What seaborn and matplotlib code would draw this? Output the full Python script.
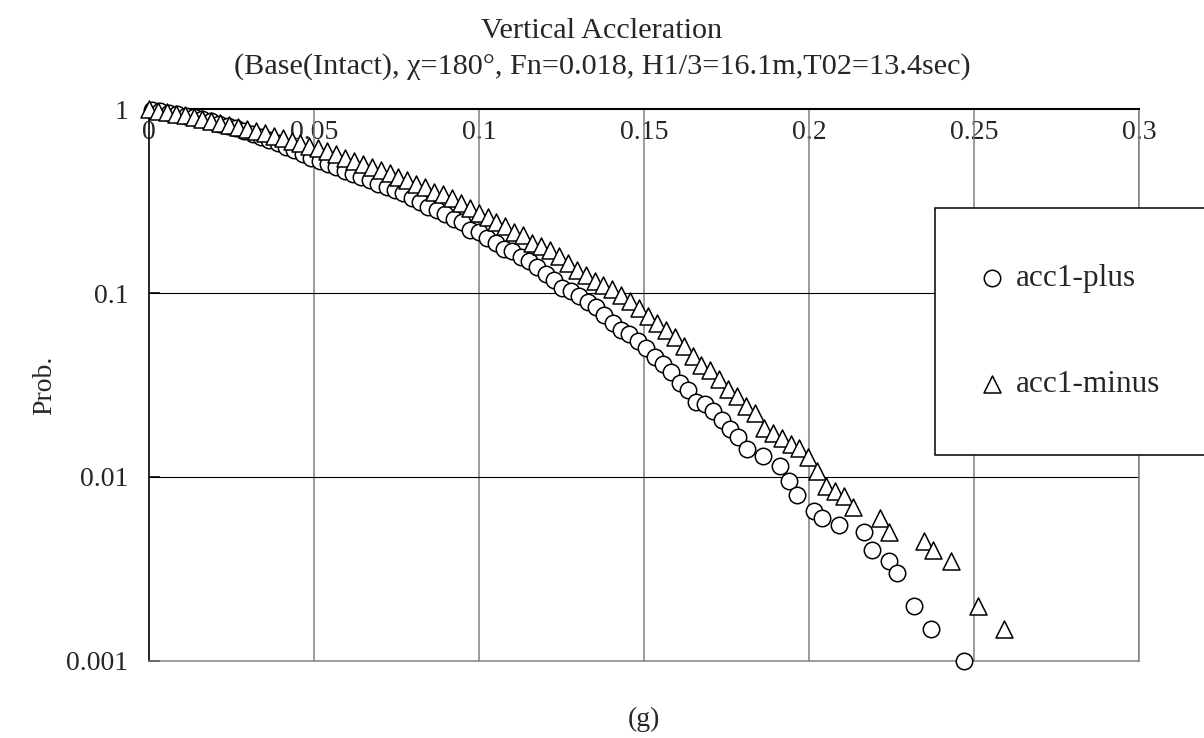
import numpy as np
import pandas as pd
import matplotlib
matplotlib.use("Agg")
import matplotlib.pyplot as plt
import seaborn as sns

# ---------------- data ----------------
plus_x = [0.0009, 0.0034, 0.0060, 0.0085, 0.0111, 0.0136, 0.0161, 0.0187, 0.0212, 0.0238,
          0.0263, 0.0288, 0.0314, 0.0339, 0.0364, 0.0390, 0.0415, 0.0440, 0.0466, 0.0491,
          0.0517, 0.0542, 0.0567, 0.0593, 0.0618, 0.0643, 0.0669, 0.0694, 0.0720, 0.0745,
          0.0770, 0.0796, 0.0821, 0.0846, 0.0872, 0.0897, 0.0923, 0.0948, 0.0973, 0.0999,
          0.1024, 0.1050, 0.1075, 0.1100, 0.1126, 0.1151, 0.1176, 0.1202, 0.1227, 0.1253,
          0.1278, 0.1303, 0.1329, 0.1354, 0.1379, 0.1405, 0.1430, 0.1456, 0.1481, 0.1506,
          0.1532, 0.1557, 0.1582, 0.1608, 0.1633, 0.1659, 0.1684, 0.1709, 0.1735, 0.1760,
          0.1786, 0.1811, 0.1862, 0.1912, 0.1938, 0.1963, 0.2014, 0.2039, 0.2090, 0.2166,
          0.2192, 0.2242, 0.2268, 0.2318, 0.2369, 0.2471]
plus_p = [0.988, 0.973, 0.957, 0.941, 0.921, 0.901, 0.879, 0.857, 0.833, 0.809,
          0.784, 0.758, 0.731, 0.704, 0.678, 0.650, 0.623, 0.596, 0.568, 0.544,
          0.522, 0.501, 0.482, 0.462, 0.444, 0.426, 0.409, 0.393, 0.377, 0.362,
          0.348, 0.327, 0.313, 0.292, 0.282, 0.269, 0.252, 0.244, 0.220, 0.215,
          0.198, 0.186, 0.173, 0.170, 0.156, 0.150, 0.138, 0.127, 0.118, 0.107,
          0.1025, 0.0963, 0.0888, 0.0839, 0.0759, 0.0684, 0.0627, 0.0601, 0.0547, 0.0501,
          0.0450, 0.0410, 0.0373, 0.0324, 0.0297, 0.0257, 0.0249, 0.0227, 0.0203, 0.0182,
          0.0166, 0.0142, 0.0130, 0.0115, 0.0095, 0.0080, 0.0065, 0.0060, 0.0055, 0.0050,
          0.0040, 0.0035, 0.0030, 0.0020, 0.0015, 0.0010]

minus_x = [0.0000, 0.0027, 0.0054, 0.0081, 0.0108, 0.0135, 0.0162, 0.0189, 0.0216, 0.0243,
           0.0270, 0.0297, 0.0324, 0.0351, 0.0378, 0.0405, 0.0432, 0.0459, 0.0486, 0.0513,
           0.0540, 0.0567, 0.0594, 0.0621, 0.0648, 0.0675, 0.0702, 0.0729, 0.0756, 0.0783,
           0.0810, 0.0837, 0.0864, 0.0891, 0.0918, 0.0945, 0.0972, 0.0999, 0.1026, 0.1053,
           0.1080, 0.1107, 0.1134, 0.1161, 0.1188, 0.1215, 0.1242, 0.1269, 0.1296, 0.1323,
           0.1350, 0.1377, 0.1404, 0.1431, 0.1458, 0.1485, 0.1512, 0.1539, 0.1566, 0.1593,
           0.1620, 0.1647, 0.1674, 0.1701, 0.1728, 0.1755, 0.1782, 0.1809, 0.1836, 0.1863,
           0.1890, 0.1917, 0.1944, 0.1971, 0.1998, 0.2025, 0.2052, 0.2079, 0.2106, 0.2133,
           0.2214, 0.2241, 0.2349, 0.2376, 0.2430, 0.2511, 0.2592]
minus_p = [0.994, 0.978, 0.961, 0.943, 0.924, 0.905, 0.885, 0.864, 0.844, 0.823,
           0.801, 0.780, 0.757, 0.736, 0.714, 0.693, 0.672, 0.651, 0.630, 0.610,
           0.588, 0.567, 0.545, 0.524, 0.504, 0.485, 0.466, 0.447, 0.429, 0.409,
           0.391, 0.378, 0.355, 0.344, 0.327, 0.307, 0.289, 0.271, 0.258, 0.244,
           0.231, 0.215, 0.207, 0.188, 0.179, 0.171, 0.159, 0.146, 0.134, 0.126,
           0.116, 0.110, 0.105, 0.098, 0.091, 0.083, 0.075, 0.069, 0.063, 0.058,
           0.0515, 0.0455, 0.0406, 0.0382, 0.0341, 0.0301, 0.0276, 0.0243, 0.0223, 0.0184,
           0.0173, 0.0162, 0.0152, 0.0143, 0.0128, 0.0108, 0.0089, 0.0084, 0.0079, 0.0069,
           0.0060, 0.0050, 0.0045, 0.0040, 0.0035, 0.0020, 0.0015]

series_names = ["acc1-plus", "acc1-minus"]
x_ticks = [0, 0.05, 0.1, 0.15, 0.2, 0.25, 0.3]
x_tick_labels = ["0", "0.05", "0.1", "0.15", "0.2", "0.25", "0.3"]
y_ticks = [0.001, 0.01, 0.1, 1]
y_tick_labels = ["0.001", "0.01", "0.1", "1"]
title_text = "Vertical Accleration\n(Base(Intact), \u03c7=180\u00b0, Fn=0.018, H1/3=16.1m,T02=13.4sec)"
x_label = "(g)"
y_label = "Prob."

# ---------------- style ----------------
sns.set_theme(style="white")
plt.rcParams["font.family"] = ["Liberation Serif", "DejaVu Serif"]
FS_TICK = 20
FS_TITLE = 21.8
FS_LEG = 22.5
FS_LAB = 20

W, H = 1204, 738
fig = plt.figure(figsize=(W / 100, H / 100), dpi=100)
fig.patch.set_facecolor("white")
ax_l, ax_r, ax_t, ax_b = 149, 1139, 109, 661
ax = fig.add_axes([ax_l / W, 1 - ax_b / H, (ax_r - ax_l) / W, (ax_b - ax_t) / H])
ax.set_facecolor("white")

df_plus = pd.DataFrame({"x": plus_x, "p": plus_p})
df_minus = pd.DataFrame({"x": minus_x, "p": minus_p})

sns.scatterplot(data=df_plus, x="x", y="p", marker="o", s=140, facecolor="white",
                edgecolor="black", linewidth=1.1, ax=ax, label=series_names[0],
                clip_on=False, zorder=3)
sns.scatterplot(data=df_minus, x="x", y="p", marker="^", s=150, facecolor="white",
                edgecolor="black", linewidth=1.1, ax=ax, label=series_names[1],
                clip_on=False, zorder=4)

ax.set_yscale("log")
ax.set_xlim(0, 0.3)
ax.set_ylim(0.001, 1)

ax.set_yticks(y_ticks)
ax.set_yticklabels(y_tick_labels)
ax.yaxis.set_minor_locator(matplotlib.ticker.NullLocator())
ax.set_xticks(x_ticks)
ax.set_xticklabels(x_tick_labels)

ax.tick_params(axis="y", which="major", direction="in", length=8, width=1.2,
               color="black", labelsize=FS_TICK, pad=15, left=True)
ax.tick_params(axis="x", which="major", top=True, bottom=False, labeltop=True,
               labelbottom=False, length=0, labelsize=FS_TICK, pad=-26)

# grid lines
ax.grid(False)
for xv in x_ticks[1:]:
    ax.axvline(xv, color="#808080", lw=1.1, zorder=1)
for yv in y_ticks[1:-1]:
    ax.axhline(yv, color="black", lw=0.8, zorder=1)

for side in ["left", "right", "top", "bottom"]:
    ax.spines[side].set_visible(True)
ax.spines["left"].set_color("black")
ax.spines["left"].set_linewidth(1.2)
ax.spines["top"].set_color("black")
ax.spines["top"].set_linewidth(1.5)
ax.spines["bottom"].set_color("#808080")
ax.spines["bottom"].set_linewidth(1.1)
ax.spines["right"].set_color("#808080")
ax.spines["right"].set_linewidth(1.1)

ax.set_xlabel(x_label, fontsize=FS_LAB)
ax.set_ylabel(y_label, fontsize=FS_LAB)
ax.xaxis.set_label_coords(0.5, -0.083)
ax.yaxis.set_label_coords(-0.093, 0.5)

fig.suptitle(title_text, x=0.5, y=1 - 18 / H, va="top", ha="center",
             fontsize=FS_TITLE, linespacing=1.45)

leg = ax.legend(loc="upper left", bbox_to_anchor=(935 / W, 1 - 208 / H),
                bbox_transform=fig.transFigure, borderaxespad=0, fontsize=FS_LEG,
                frameon=True, fancybox=False, shadow=False, framealpha=1,
                borderpad=1.8, labelspacing=2.45, handlelength=0.05,
                handletextpad=0.75, edgecolor="black")
leg.get_frame().set_linewidth(1.1)
leg.set_zorder(10)

fig.savefig("out.png", dpi=100, facecolor="white")
